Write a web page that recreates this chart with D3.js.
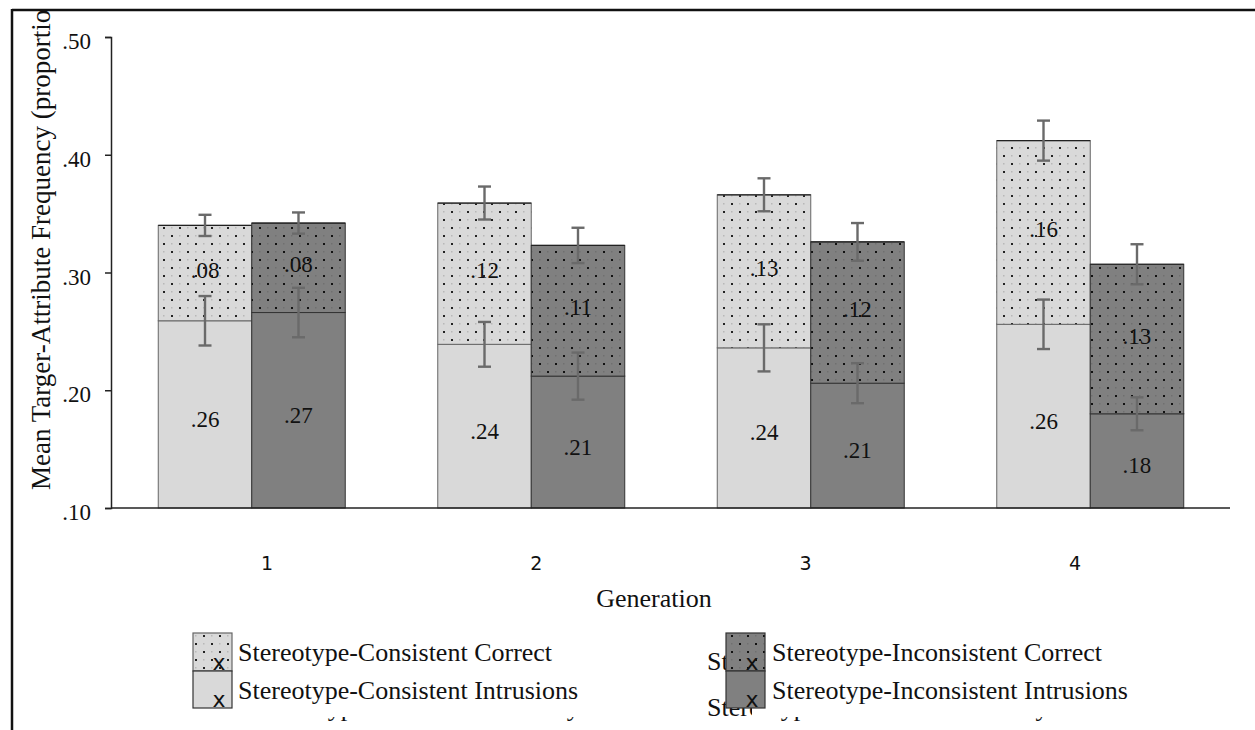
<!DOCTYPE html>
<html>
<head>
<meta charset="utf-8">
<script src="https://cdn.jsdelivr.net/npm/d3@7/dist/d3.min.js"></script>
<style>
  html, body { margin: 0; padding: 0; background: #fff; }
  svg { display: block; }
</style>
</head>
<body>
<svg id="chart" width="1255" height="730"></svg>
<script>
// Generations on the x axis
const generations = ["1", "2", "3", "4"];

// Mean proportions per generation
const consistentIntrusions   = [0.259, 0.239, 0.236, 0.256];
const consistentCorrect      = [0.081, 0.120, 0.130, 0.156];
const inconsistentIntrusions = [0.266, 0.212, 0.206, 0.180];
const inconsistentCorrect    = [0.076, 0.111, 0.120, 0.127];

// Error bar half-widths (proportion units)
const consistentIntrusionsErr   = [0.021, 0.019, 0.020, 0.021];
const consistentCorrectErr      = [0.009, 0.014, 0.014, 0.017];
const inconsistentIntrusionsErr = [0.021, 0.020, 0.017, 0.014];
const inconsistentCorrectErr    = [0.009, 0.015, 0.016, 0.017];

// Y axis ticks
const yTicks = [0.10, 0.20, 0.30, 0.40, 0.50];

// Legend labels
const legendLeft  = ["Stereotype-Consistent Correct", "Stereotype-Consistent Intrusions"];
const legendRight = ["Stereotype-Inconsistent Correct", "Stereotype-Inconsistent Intrusions"];

const SERIF = "'Liberation Serif', 'Times New Roman', serif";
const SANS = "'DejaVu Sans', sans-serif";
const LIGHT = "#d9d9d9";
const DARK = "#808080";

const svg = d3.select("#chart");
const defs = svg.append("defs");

// dotted fills for the "correct" segments
function dotPattern(id, bg, dot, faint) {
  const p = defs.append("pattern")
    .attr("id", id).attr("patternUnits", "userSpaceOnUse")
    .attr("width", 16).attr("height", 16);
  p.append("rect").attr("width", 16).attr("height", 16).attr("fill", bg);
  [[0, 0], [8, 8]].forEach(([x, y]) =>
    p.append("rect").attr("x", x + 3).attr("y", y + 3).attr("width", 2).attr("height", 2).attr("fill", dot));
  [[8, 0], [0, 8]].forEach(([x, y]) =>
    p.append("rect").attr("x", x + 3).attr("y", y + 3).attr("width", 1.5).attr("height", 1.5).attr("fill", faint));
}
dotPattern("dotsLight", LIGHT, "#222", "#b8b8b8");
dotPattern("dotsDark", DARK, "#111", "#707070");

defs.append("clipPath").attr("id", "frameClip")
  .append("rect").attr("x", 13).attr("y", 11).attr("width", 1242).attr("height", 719);

const root = svg.append("g").attr("clip-path", "url(#frameClip)");

// scales
const y = d3.scaleLinear().domain([0.10, 0.50]).range([508, 37]);
const x0 = d3.scaleBand().domain(generations).range([112, 1230]).paddingInner(0.331).paddingOuter(0.1655);
const x1 = d3.scaleBand().domain(["consistent", "inconsistent"]).range([0, x0.bandwidth()]);
const tickX = d3.scalePoint().domain(generations).range([267, 1075]);

const fmt = v => d3.format(".2f")(v).replace(/^0/, "");

const groups = [
  { key: "consistent", intr: consistentIntrusions, corr: consistentCorrect,
    intrErr: consistentIntrusionsErr, corrErr: consistentCorrectErr,
    fill: LIGHT, pattern: "url(#dotsLight)", stroke: "#666" },
  { key: "inconsistent", intr: inconsistentIntrusions, corr: inconsistentCorrect,
    intrErr: inconsistentIntrusionsErr, corrErr: inconsistentCorrectErr,
    fill: DARK, pattern: "url(#dotsDark)", stroke: "#333" }
];

// stacked bars
const barLayer = root.append("g");
groups.forEach(s => {
  generations.forEach((g, i) => {
    const bx = x0(g) + x1(s.key);
    const bw = x1.bandwidth();
    const base = 0.10;
    const top1 = s.intr[i];
    const top2 = s.intr[i] + s.corr[i];
    barLayer.append("rect")
      .attr("x", bx).attr("y", y(top1)).attr("width", bw).attr("height", y(base) - y(top1))
      .attr("fill", s.fill).attr("stroke", s.stroke).attr("stroke-width", 1);
    barLayer.append("rect")
      .attr("x", bx).attr("y", y(top2)).attr("width", bw).attr("height", y(top1) - y(top2))
      .attr("fill", s.pattern).attr("stroke", s.stroke).attr("stroke-width", 1);
    barLayer.append("line")
      .attr("x1", bx).attr("x2", bx + bw).attr("y1", y(top2)).attr("y2", y(top2))
      .attr("stroke", "#222").attr("stroke-width", 1.2);
  });
});

// value labels
const labelLayer = root.append("g")
  .attr("font-family", SERIF).attr("font-size", 23).attr("fill", "#111").attr("text-anchor", "middle");
groups.forEach(s => {
  generations.forEach((g, i) => {
    const cx = x0(g) + x1(s.key) + x1.bandwidth() / 2;
    const top1 = s.intr[i];
    const top2 = s.intr[i] + s.corr[i];
    labelLayer.append("text")
      .attr("x", cx).attr("y", (y(0.10) + y(top1)) / 2 + 5)
      .attr("dominant-baseline", "central").text(fmt(s.intr[i]));
    labelLayer.append("text")
      .attr("x", cx).attr("y", (y(top1) + y(top2)) / 2 - 3)
      .attr("dominant-baseline", "central").text(fmt(s.corr[i]));
  });
});

// error bars
const errLayer = root.append("g").attr("stroke", "#6a6a6a").attr("stroke-width", 2.4);
function errBar(cx, v, e) {
  errLayer.append("line").attr("x1", cx).attr("x2", cx).attr("y1", y(v + e)).attr("y2", y(v - e));
  [v + e, v - e].forEach(t =>
    errLayer.append("line").attr("x1", cx - 6.5).attr("x2", cx + 6.5).attr("y1", y(t)).attr("y2", y(t)));
}
groups.forEach(s => {
  generations.forEach((g, i) => {
    const cx = x0(g) + x1(s.key) + x1.bandwidth() / 2;
    errBar(cx, s.intr[i], s.intrErr[i]);
    errBar(cx, s.intr[i] + s.corr[i], s.corrErr[i]);
  });
});

// y axis
const yAxis = d3.axisLeft(y).tickValues(yTicks).tickSize(6).tickPadding(14).tickFormat(fmt);
const yg = root.append("g").attr("transform", "translate(111,0)").call(yAxis);
yg.select(".domain").attr("stroke", "#222").attr("stroke-width", 1.5);
yg.selectAll(".tick line").attr("stroke", "#222").attr("stroke-width", 1.5);
yg.selectAll(".tick text")
  .attr("font-family", SERIF).attr("font-size", 23).attr("fill", "#111").attr("dy", "0.5em");

// x axis baseline
root.append("line")
  .attr("x1", 111).attr("x2", x0.range()[1]).attr("y1", y(0.10)).attr("y2", y(0.10))
  .attr("stroke", "#222").attr("stroke-width", 1.5);

// generation labels
root.append("g").selectAll("text").data(generations).join("text")
  .attr("x", d => tickX(d)).attr("y", 570)
  .attr("text-anchor", "middle").attr("font-family", SANS).attr("font-size", 19).attr("fill", "#111")
  .text(d => d);

// axis titles
root.append("text")
  .attr("x", 654).attr("y", 607).attr("text-anchor", "middle")
  .attr("font-family", SERIF).attr("font-size", 26).attr("fill", "#111")
  .text("Generation");

root.append("text")
  .attr("transform", "translate(50,490) rotate(-90)")
  .attr("text-anchor", "start")
  .attr("font-family", SERIF).attr("font-size", 27).attr("fill", "#111")
  .text("Mean Targer-Attribute Frequency (proportion)");

// legend
const legend = root.append("g");

// leftover text lines partly showing behind the legend
const ghostClipA = defs.append("clipPath").attr("id", "ghostA");
ghostClipA.append("rect").attr("x", 700).attr("y", 640).attr("width", 26).attr("height", 40);
const ghostClipB = defs.append("clipPath").attr("id", "ghostB");
ghostClipB.append("rect").attr("x", 700).attr("y", 690).attr("width", 52).attr("height", 40);
ghostClipB.append("rect").attr("x", 700).attr("y", 717).attr("width", 555).attr("height", 13);
const ghostClipC = defs.append("clipPath").attr("id", "ghostC");
ghostClipC.append("rect").attr("x", 230).attr("y", 717).attr("width", 470).attr("height", 13);

const ghost = legend.append("g").attr("font-family", SERIF).attr("font-size", 26).attr("fill", "#111");

const sw = [
  { x: 193, fill: "url(#dotsLight)", stroke: "#666", row: 0, label: legendLeft[0] },
  { x: 193, fill: LIGHT, stroke: "#333", row: 1, label: legendLeft[1] },
  { x: 726, fill: "url(#dotsDark)", stroke: "#333", row: 0, label: legendRight[0] },
  { x: 726, fill: DARK, stroke: "#333", row: 1, label: legendRight[1] }
];
const rowTop = [633, 671];
const rowH = [38, 37];

sw.forEach(d => {
  legend.append("rect")
    .attr("x", d.x).attr("y", rowTop[d.row]).attr("width", 39).attr("height", rowH[d.row])
    .attr("fill", d.fill).attr("stroke", d.stroke).attr("stroke-width", 1.2);
});

ghost.append("text").attr("x", 707).attr("y", 670).attr("clip-path", "url(#ghostA)")
  .text("Stereotype-Inconsistent Correct");
ghost.append("text").attr("x", 707).attr("y", 716).attr("clip-path", "url(#ghostB)")
  .text("Stereotype-Inconsistent Memory");
ghost.append("text").attr("x", 254).attr("y", 716).attr("clip-path", "url(#ghostC)")
  .text("Stereotype-Consistent Memory");

sw.forEach(d => {
  legend.append("text")
    .attr("x", d.x + 26).attr("y", rowTop[d.row] + rowH[d.row] - 1)
    .attr("text-anchor", "middle").attr("font-family", SANS).attr("font-size", 22).attr("fill", "#111")
    .text("x");
  legend.append("text")
    .attr("x", d.x === 193 ? 238 : 772).attr("y", d.row === 0 ? 661 : 699)
    .attr("font-family", SERIF).attr("font-size", 26).attr("fill", "#111")
    .text(d.label);
});

// page frame
svg.append("line").attr("x1", 12).attr("x2", 1255).attr("y1", 10).attr("y2", 10)
  .attr("stroke", "#111").attr("stroke-width", 2.5);
svg.append("line").attr("x1", 12).attr("x2", 12).attr("y1", 9).attr("y2", 730)
  .attr("stroke", "#111").attr("stroke-width", 2.5);
</script>
</body>
</html>
